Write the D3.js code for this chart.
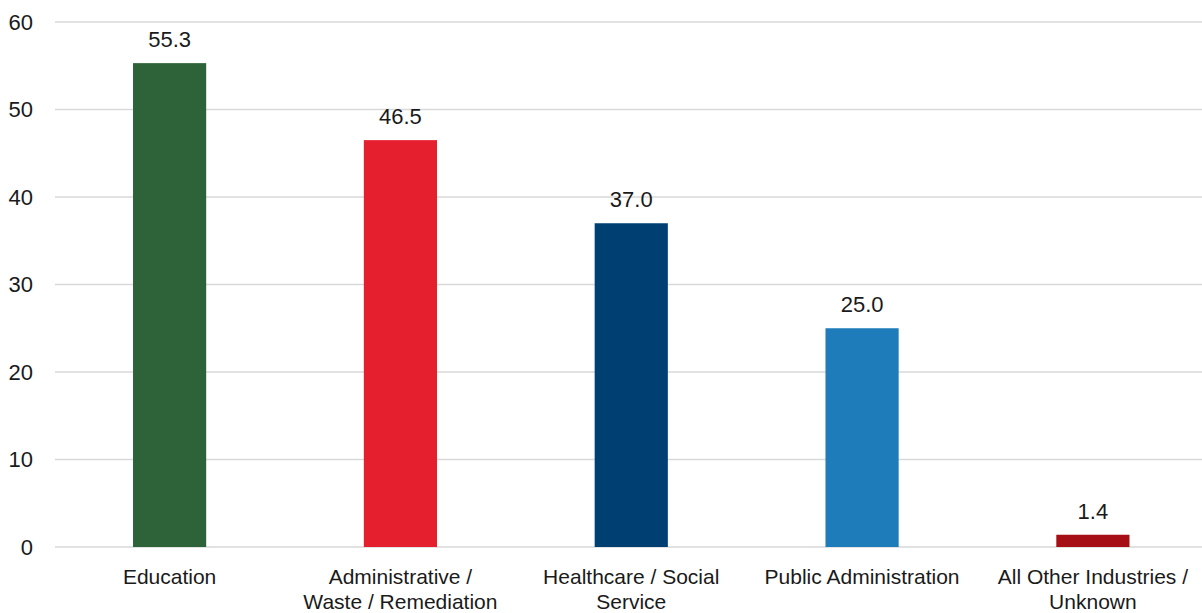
<!DOCTYPE html>
<html>
<head>
<meta charset="utf-8">
<script src="https://cdn.jsdelivr.net/npm/d3@7"></script>
<style>
  body { margin: 0; background: #fff; }
  text { font-family: "Liberation Sans", Arial, sans-serif; fill: #1a1a1a; }
</style>
</head>
<body>
<div id="chart"></div>
<script>
// chart data
const categories = [
    ["Education"],
    ["Administrative /", "Waste / Remediation"],
    ["Healthcare / Social", "Service"],
    ["Public Administration"],
    ["All Other Industries /", "Unknown"]
];
const values = [55.3, 46.5, 37.0, 25.0, 1.4];
const colors = ["#2e633a", "#e51f2e", "#003f72", "#1f7cbb", "#a50f15"];
const yTicks = [0, 10, 20, 30, 40, 50, 60];

const width = 1202;
const height = 613;
const margin = { top: 22, right: 0, bottom: 66, left: 55 };

const svg = d3.select("#chart")
    .append("svg")
    .attr("width", width)
    .attr("height", height);

// band range runs a little past the right edge, as in the original
const x = d3.scaleBand()
    .domain(d3.range(categories.length))
    .range([margin.left, 1207.5])
    .paddingInner(0.683)
    .paddingOuter(0.338);

const y = d3.scaleLinear()
    .domain([0, 60])
    .range([height - margin.bottom, margin.top]);

// gridlines
svg.selectAll("line.grid")
    .data(yTicks)
    .join("line")
    .attr("class", "grid")
    .attr("x1", margin.left)
    .attr("x2", width - margin.right)
    .attr("y1", d => y(d))
    .attr("y2", d => y(d))
    .attr("stroke", "#d9d9d9")
    .attr("stroke-width", 1.5);

// y tick labels
svg.selectAll("text.ytick")
    .data(yTicks)
    .join("text")
    .attr("class", "ytick")
    .attr("x", 33)
    .attr("y", d => y(d))
    .attr("dy", "0.35em")
    .attr("text-anchor", "end")
    .attr("font-size", "22px")
    .text(d => d);

// bars
svg.selectAll("rect.bar")
    .data(values)
    .join("rect")
    .attr("class", "bar")
    .attr("x", (d, i) => x(i))
    .attr("width", x.bandwidth())
    .attr("y", d => y(d))
    .attr("height", d => y(0) - y(d))
    .attr("fill", (d, i) => colors[i]);

// value labels
svg.selectAll("text.val")
    .data(values)
    .join("text")
    .attr("class", "val")
    .attr("x", (d, i) => x(i) + x.bandwidth() / 2)
    .attr("y", d => y(d) - 16)
    .attr("text-anchor", "middle")
    .attr("font-size", "22px")
    .text(d => d.toFixed(1));

// category labels
const catG = svg.selectAll("text.cat")
    .data(categories)
    .join("text")
    .attr("class", "cat")
    .attr("text-anchor", "middle")
    .attr("font-size", "21px");

catG.each(function(lines, i) {
    const t = d3.select(this);
    lines.forEach((ln, j) => {
        t.append("tspan")
            .attr("x", x(i) + x.bandwidth() / 2)
            .attr("y", 584 + j * 25)
            .text(ln);
    });
});
</script>
</body>
</html>
